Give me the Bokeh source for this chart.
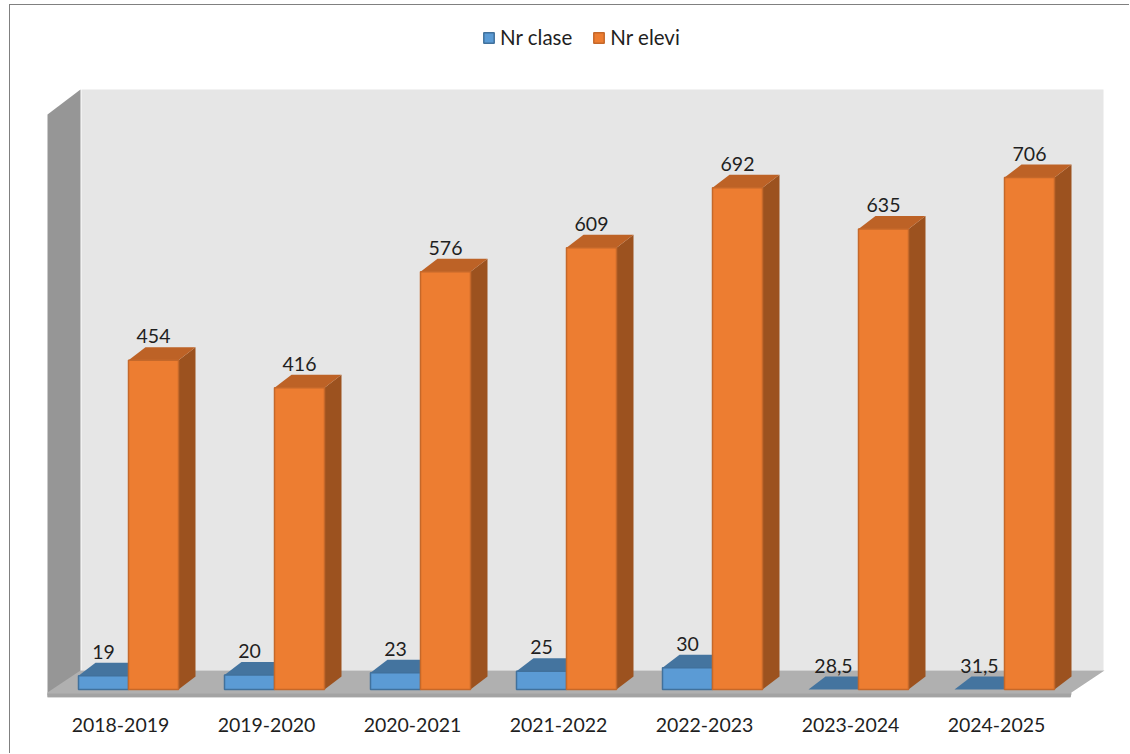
from bokeh.plotting import figure
from bokeh.models import (Range1d, LinearAxis, FixedTicker, Legend, LegendItem,
                          ColumnDataSource)
from bokeh.core.properties import value
from bokeh.embed import file_html
from bokeh.resources import INLINE

categories = ["2018-2019", "2019-2020", "2020-2021", "2021-2022", "2022-2023", "2023-2024", "2024-2025"]
nr_clase_drawn = [19, 20, 23, 25, 30, 0, 0]
nr_clase_labels = ["19", "20", "23", "25", "30", "28,5", "31,5"]
nr_elevi = [454, 416, 576, 609, 692, 635, 706]
nr_elevi_labels = ["454", "416", "576", "609", "692", "635", "706"]

W, H, FRAME_BOTTOM = 1130, 754, 697
OX, OY = 10, 5
CAT_PX = 146.0
PPU = 512 / 706
X0, Y0 = 120.0, 690.0
BAR = 50 / CAT_PX
DX, DY = 17 / CAT_PX, 13 / PPU
FONT = "Lato"
TXT = "#1f1f1f"

def wx(px):
    return (px - X0) / CAT_PX

def wy(py):
    return (Y0 - py) / PPU

p = figure(width=W - OX, height=H - OY, output_backend="svg", toolbar_location=None,
           x_range=Range1d(wx(OX), wx(W)), y_range=Range1d(wy(FRAME_BOTTOM + 1), wy(OY + 1)),
           x_axis_type=None, y_axis_type=None, min_border=0,
           min_border_bottom=H - FRAME_BOTTOM, outline_line_color=None,
           background_fill_color="white", border_fill_color="white")
p.styles = {"margin": f"{OY}px 0 0 {OX}px", "box-shadow": "-1px -1px 0 #808080"}
p.xgrid.visible = False
p.ygrid.visible = False

def poly(pts, color):
    p.patch([wx(a) for a, _ in pts], [wy(b) for _, b in pts], fill_color=color, line_color=None)

poly([(81, 90), (1103, 90), (1103, 671), (81, 671)], "#E6E6E6")
poly([(47, 115), (80, 90), (80, 672), (47, 696)], "#969696")
poly([(47, 693), (80, 671), (1104, 671), (1071, 693), (1070, 698), (47, 698)], "#B0B0B0")
poly([(47, 694), (1071, 694), (1070, 698), (47, 698)], "#A3A3A3")

xs = list(range(len(categories)))
blue_c = [i + (78 + 25 - X0) / CAT_PX for i in xs]
orange_c = [i + (128 + 25 - X0) / CAT_PX for i in xs]

def top_face(c, v):
    l, r = c - BAR / 2, c + BAR / 2
    return [l, r, r + DX, l + DX], [v, v, v + DY, v + DY]

def side_face(c, v):
    r = c + BAR / 2
    return [r, r + DX, r + DX, r], [0, DY, v + DY, v]

bt = [top_face(c, v) for c, v in zip(blue_c, nr_clase_drawn)]
p.patches([a for a, _ in bt], [b for _, b in bt], fill_color="#44749F", line_color=None)
blue = p.vbar(x=[c for c, v in zip(blue_c, nr_clase_drawn) if v > 0], width=BAR, bottom=0,
              top=[v for v in nr_clase_drawn if v > 0], fill_color="#5B9BD5", line_color="#41719C", line_width=1.5)

os_ = [side_face(c, v) for c, v in zip(orange_c, nr_elevi)]
p.patches([a for a, _ in os_], [b for _, b in os_], fill_color="#9C521F", line_color=None)
ot = [top_face(c, v) for c, v in zip(orange_c, nr_elevi)]
p.patches([a for a, _ in ot], [b for _, b in ot], fill_color="#BD6226", line_color=None)
orange = p.vbar(x=orange_c, width=BAR, bottom=0, top=nr_elevi,
                fill_color="#ED7D31", line_color="#C5682A", line_width=1.5)

src = ColumnDataSource(dict(x=blue_c + orange_c, y=nr_clase_drawn + nr_elevi,
                            t=nr_clase_labels + nr_elevi_labels))
p.text("x", "y", text="t", source=src, text_font=value(FONT), text_font_size="19.5px",
       text_color=TXT, text_align="center", text_baseline="alphabetic", y_offset=-24)

axis = LinearAxis(ticker=FixedTicker(ticks=xs),
                  major_label_overrides={i: c for i, c in zip(xs, categories)},
                  axis_line_color=None, major_tick_line_color=None, minor_tick_line_color=None,
                  major_label_text_font=FONT, major_label_text_font_size="19.5px",
                  major_label_text_color=TXT, major_label_standoff=14)
p.add_layout(axis, "below")

legend = Legend(items=[LegendItem(label="Nr clase", renderers=[blue]),
                       LegendItem(label="Nr elevi", renderers=[orange])],
                orientation="horizontal", location=(482 - OX, FRAME_BOTTOM - 49),
                background_fill_alpha=0, border_line_color=None, padding=0, margin=0,
                glyph_width=13, glyph_height=13, spacing=20, label_standoff=5,
                label_text_font=FONT, label_text_font_size="20.5px", label_text_color=TXT)
p.add_layout(legend, "center")

open("out.html", "w").write(file_html(p, INLINE))
